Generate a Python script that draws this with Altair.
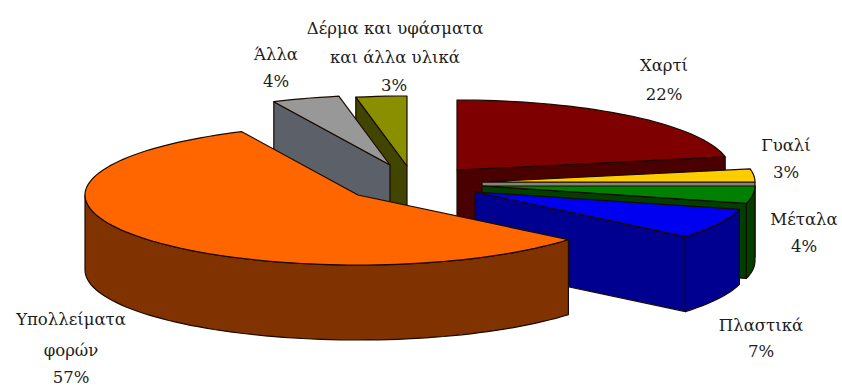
import math
import altair as alt

# Waste composition, clockwise from twelve o'clock
names = ["Χαρτί", "Γυαλί", "Μέταλα", "Πλαστικά", "Υπολλείματα φορών", "Άλλα", "Δέρμα και υφάσματα και άλλα υλικά"]
shares = [22, 3, 4, 7, 57, 4, 3]
top_colors = ["#7f0000", "#ffcc00", "#008000", "#0000f0", "#ff6600", "#989898", "#8a8f00"]
side_colors = ["#4a0000", "#85857a", "#003f00", "#000090", "#803200", "#5c6068", "#414500"]

# Where each exploded slice has its tip, in pixels
tip_x = [457, 482, 482, 475, 358, 390, 407]
tip_y = [170, 182, 186, 192, 195, 165, 166]

# Drawn back to front
paint_order = [0, 1, 2, 3, 6, 5, 4]

# Label lines: text, centre x, centre y
label_text = ["Χαρτί", "22%", "Γυαλί", "3%", "Μέταλα", "4%", "Πλαστικά", "7%",
              "Υπολλείματα", "φορών", "57%", "Άλλα", "4%",
              "Δέρμα και υφάσματα", "και άλλα υλικά", "3%"]
label_x = [664, 664, 786, 786, 804, 804, 761, 761, 71, 71, 71, 276, 276, 395, 395, 394]
label_y = [66, 95, 146, 173, 220, 247, 326, 352, 320, 351, 378, 55, 82, 29, 58, 86]

RX, RY, DEPTH = 273, 70, 75


def rim(cx, cy, a, b, drop=0):
    steps = max(2, int(abs(b - a) / 2))
    pts = []
    for i in range(steps + 1):
        t = math.radians(a + (b - a) * i / steps)
        pts.append([round(cx + RX * math.sin(t), 1), round(cy - RY * math.cos(t) + drop, 1)])
    return pts


def feature(ring, fill):
    ring = ring + [ring[0]]
    return {"type": "Feature", "properties": {"fill": fill},
            "geometry": {"type": "Polygon", "coordinates": [ring]}}


def radial_wall(cx, cy, angle):
    edge = rim(cx, cy, angle, angle, 0)[0]
    return [[cx, cy], edge, [edge[0], edge[1] + DEPTH], [cx, cy + DEPTH]]


starts = [sum(shares[:i]) * 3.6 for i in range(len(shares))]
features = []
for i in paint_order:
    cx, cy = tip_x[i], tip_y[i]
    a, b = starts[i], starts[i] + shares[i] * 3.6
    # Only the walls that face the viewer
    if a > 180:
        features.append(feature(radial_wall(cx, cy, a), side_colors[i]))
    if b < 180:
        features.append(feature(radial_wall(cx, cy, b), side_colors[i]))
    lo, hi = max(a, 90), min(b, 270)
    if lo < hi:
        features.append(feature(rim(cx, cy, lo, hi) + rim(cx, cy, hi, lo, DEPTH), side_colors[i]))
    features.append(feature([[cx, cy]] + rim(cx, cy, a, b), top_colors[i]))

slices = alt.Chart(
    alt.InlineData(values={"type": "FeatureCollection", "features": features},
                   format=alt.DataFormat(type="json", property="features"))
).mark_geoshape(stroke="#1a0a00", strokeWidth=1.2, strokeJoin="round").encode(
    color=alt.Color("properties.fill:N", scale=None, legend=None)
)

labels = alt.Chart(alt.Data(values=[
    {"t": t, "x": x, "y": y} for t, x, y in zip(label_text, label_x, label_y)
])).mark_text(font="DejaVu Serif", fontSize=16.5, color="#1c1c1c", align="center", baseline="middle").encode(
    longitude="x:Q", latitude="y:Q", text="t:N"
)

chart = alt.layer(slices, labels).project(
    type="identity", scale=1, translate=[0, 0]
).properties(
    width=842, height=386, padding=0, autosize="none", background="white"
).configure_view(stroke=None)

chart.save("out.html", embed_options={"renderer": "svg", "actions": False})
